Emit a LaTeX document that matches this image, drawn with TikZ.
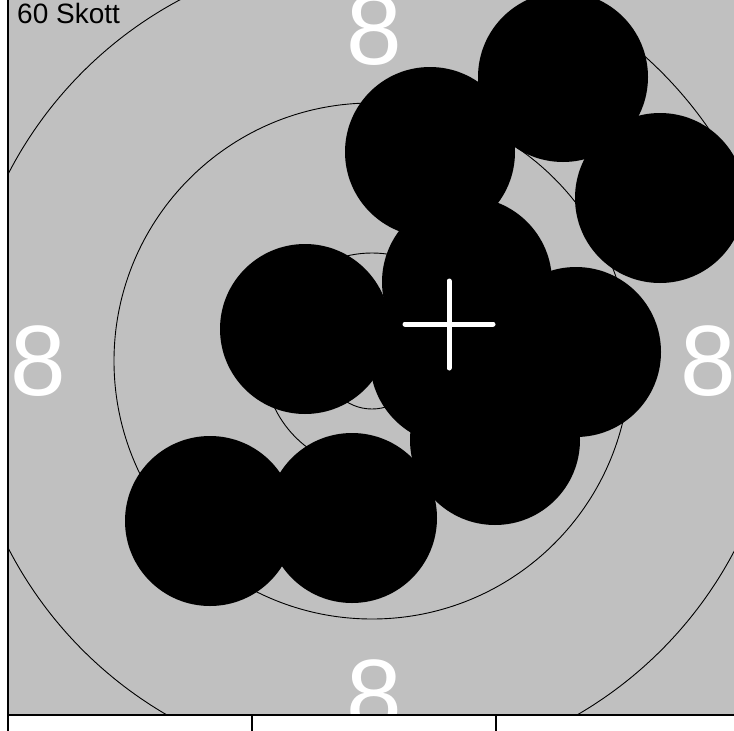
\documentclass[tikz,border=0pt]{standalone}
\usepackage{fontspec}
\setmainfont{Liberation Sans}
\definecolor{bg}{RGB}{192,192,192}
\begin{document}
\begin{tikzpicture}[x=1pt,y=-1pt,
  ring/.style={draw=black,line width=0.9pt},
  shot/.style={fill=black},
  lab/.style={text=white,font=\fontsize{100}{100}\selectfont,inner sep=0pt},
  crossline/.style={draw=white,line width=5pt,line cap=round},
  frame/.style={draw=black,line width=1.3pt}]
\useasboundingbox (0,0) rectangle (734,731);
\fill[white] (0,0) rectangle (734,731);
\begin{scope}
  \clip (8.5,0) rectangle (734,713.5);
  \fill[bg] (8.5,0) rectangle (734,713.5);
  \coordinate (c) at (372,361);
  \draw[ring] (c) circle[radius=409pt];
  \draw[ring] (c) circle[radius=258pt];
  \draw[ring] (c) circle[radius=108pt];
  \draw[ring] (c) circle[radius=48pt];
  \node[lab] (l8) at (38,361) {8};
  \node[lab] (r8) at (708,361) {8};
  \node[lab] (t8) at (374,30) {8};
  \node[lab] (b8) at (374,695) {8};
  \fill[shot] (563,77) circle[radius=85pt];
  \fill[shot] (660,198) circle[radius=85pt];
  \fill[shot] (430,152) circle[radius=85pt];
  \fill[shot] (467,282) circle[radius=85pt];
  \fill[shot] (305,329) circle[radius=85pt];
  \fill[shot] (576,352) circle[radius=85pt];
  \fill[shot] (455,360) circle[radius=85pt];
  \fill[shot] (495,440) circle[radius=85pt];
  \fill[shot] (210,521) circle[radius=85pt];
  \fill[shot] (352,518) circle[radius=85pt];
  \coordinate (hl) at (405,324);
  \coordinate (hr) at (493,324);
  \coordinate (vt) at (449,281);
  \coordinate (vb) at (449,368);
  \draw[crossline] (hl) -- (hr);
  \draw[crossline] (vt) -- (vb);
\end{scope}
\node[anchor=north west,inner sep=0pt,font=\fontsize{28}{28}\selectfont] (title) at (17,3) {60 Skott};
\coordinate (lt) at (8,0);
\coordinate (lb) at (8,731);
\coordinate (bl) at (8,715);
\coordinate (br) at (734,715);
\coordinate (t1a) at (252,715);
\coordinate (t1b) at (252,731);
\coordinate (t2a) at (496,715);
\coordinate (t2b) at (496,731);
\draw[frame] (lt) -- (lb);
\draw[frame] (bl) -- (br);
\draw[frame] (t1a) -- (t1b);
\draw[frame] (t2a) -- (t2b);
\end{tikzpicture}
\end{document}
